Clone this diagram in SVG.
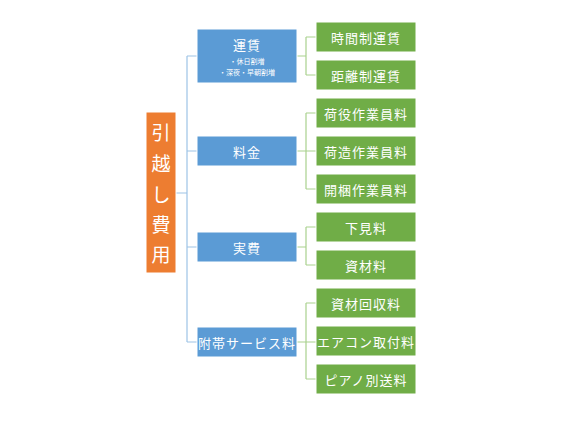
<svg xmlns="http://www.w3.org/2000/svg" width="562" height="422" viewBox="0 0 562 422">
<style>
text{font-family:"Noto Sans CJK JP","Noto Sans CJK SC",sans-serif;fill:#fff;text-anchor:middle;dominant-baseline:central}
.blue{fill:#5B9BD5;stroke:#fff;stroke-width:1}
.green{fill:#70AD47;stroke:#fff;stroke-width:1}
.orange{fill:#ED7D31;stroke:#fff;stroke-width:1}
.t{font-size:13px;letter-spacing:1px}
.s{font-size:7px}
.lb{fill:none;stroke:#9DC3E6;stroke-width:1.2}
.lg{fill:none;stroke:#A9D18E;stroke-width:1.2}
</style>
<rect width="562" height="422" fill="#fff"/>
<g id="connectors">
<path class="lb" d="M176 193H187M187 56V342M187 56H197M187 151H197M187 247H197M187 342H197"/>
<path class="lg" d="M297 56H306M306 37V75M306 37H316M306 75H316"/>
<path class="lg" d="M297 151H316M306 113V189M306 113H316M306 189H316"/>
<path class="lg" d="M297 247H306M306 227V265M306 227H316M306 265H316"/>
<path class="lg" d="M297 342H316M306 303V379M306 303H316M306 379H316"/>
</g>
<g id="root"><rect class="orange" x="146" y="112" width="30" height="161"/>
<text x="161" y="131" style="font-size:19px">引</text>
<text x="161" y="162" style="font-size:19px">越</text>
<text x="161" y="193" style="font-size:19px">し</text>
<text x="161" y="223" style="font-size:19px">費</text>
<text x="161" y="253" style="font-size:19px">用</text></g>
<g id="n-unchin"><rect class="blue" x="197" y="29" width="100" height="54"/>
<text class="t" x="247" y="44">運賃</text>
<text class="s" x="247" y="61">・休日割増</text>
<text class="s" x="247" y="72">・深夜・早朝割増</text></g>
<g id="n-ryokin"><rect class="blue" x="197" y="136" width="100" height="30"/><text class="t" x="247" y="151">料金</text></g>
<g id="n-jippi"><rect class="blue" x="197" y="232" width="100" height="30"/><text class="t" x="247" y="247">実費</text></g>
<g id="n-futai"><rect class="blue" x="197" y="327" width="100" height="30"/><text class="t" x="247" y="342">附帯サービス料</text></g>
<g id="g1"><rect class="green" x="316" y="22" width="100" height="30"/><text class="t" x="366" y="37">時間制運賃</text></g>
<g id="g2"><rect class="green" x="316" y="60" width="100" height="30"/><text class="t" x="366" y="75">距離制運賃</text></g>
<g id="g3"><rect class="green" x="316" y="98" width="100" height="30"/><text class="t" x="366" y="113">荷役作業員料</text></g>
<g id="g4"><rect class="green" x="316" y="136" width="100" height="30"/><text class="t" x="366" y="151">荷造作業員料</text></g>
<g id="g5"><rect class="green" x="316" y="174" width="100" height="30"/><text class="t" x="366" y="189">開梱作業員料</text></g>
<g id="g6"><rect class="green" x="316" y="212" width="100" height="30"/><text class="t" x="366" y="227">下見料</text></g>
<g id="g7"><rect class="green" x="316" y="250" width="100" height="30"/><text class="t" x="366" y="265">資材料</text></g>
<g id="g8"><rect class="green" x="316" y="288" width="100" height="30"/><text class="t" x="366" y="303">資材回収料</text></g>
<g id="g9"><rect class="green" x="316" y="326" width="100" height="30"/><text class="t" x="366" y="341">エアコン取付料</text></g>
<g id="g10"><rect class="green" x="316" y="364" width="100" height="30"/><text class="t" x="366" y="379">ピアノ別送料</text></g>
</svg>
